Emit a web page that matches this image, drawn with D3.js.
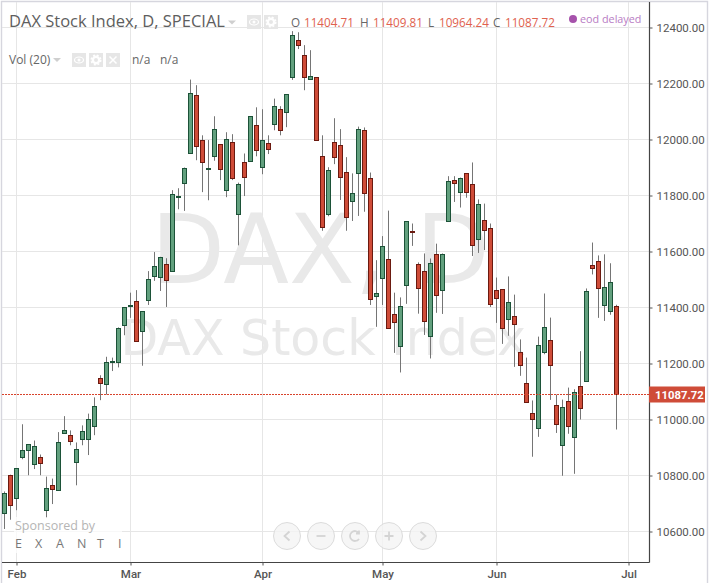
<!DOCTYPE html>
<html><head><meta charset="utf-8">
<script src="https://cdnjs.cloudflare.com/ajax/libs/d3/7.8.5/d3.min.js"></script>
<style>html,body{margin:0;padding:0;background:#fff}svg{display:block}</style>
</head><body><div id="chart"></div>
<script>
const opens=[10663,10800,10717,10863,10889,10838,10864,10674,10764,10745,10949,10943,10845,10927,10927,10975,11146,11124,11205,11204,11334,11405,11420,11314,11425,11509,11506,11553,11528,11793,11842,11949,12157,11996,11893,11939,11982,11818,11989,11732,11918,11921,12050,11900,11986,12054,12107,12096,12220,12354,12300,12214,12221,11939,11732,11989,11979,11882,11779,11879,12032,11861,11438,11503,11571,11375,11261,11478,11672,11553,11528,11296,11589,11461,11707,11854,11811,11879,11839,11643,11711,11682,11461,11464,11357,11368,11239,11128,11021,10968,11239,11282,11050,10907,11064,10936,11118,11136,11550,11564,11407,11386,11404.71];
const highs=[10743,10803,10825,10983,10911,10925,10875,10796,10789,10955,11012,10961,10918,10979,11021,11079,11158,11224,11221,11329,11400,11453,11462,11384,11530,11598,11581,11576,11819,11826,11900,12214,12194,12015,11998,12083,11982,12026,12019,11846,11950,12083,12115,12108,12015,12146,12119,12161,12387,12383,12337,12319,12221,12015,11901,12076,12037,11937,11879,12046,12043,11882,11569,11655,11746,11453,11436,11707,11700,11561,11593,11575,11628,11593,11869,11869,11864,11879,11918,11786,11771,11700,11507,11464,11511,11446,11286,11221,11068,11296,11450,11364,11089,11071,11114,11108,11244,11468,11632,11586,11590,11558,11409.81];
const lows=[10609,10642,10676,10858,10801,10823,10801,10648,10698,10745,10949,10908,10765,10908,10873,10944,11069,11089,11173,11186,11301,11363,11278,11192,11409,11495,11459,11402,11528,11751,11745,11949,11926,11812,11783,11924,11855,11794,11855,11622,11798,11921,11940,11876,11948,12033,12015,12044,12213,12323,12176,12214,11996,11674,11726,11912,11784,11674,11709,11727,11742,11409,11331,11409,11325,11238,11168,11413,11620,11378,11302,11218,11381,11377,11707,11777,11757,11792,11584,11595,11605,11402,11345,11270,11299,11188,11156,11061,10867,10938,11233,11070,10952,10799,10949,10806,11000,11136,11518,11363,11352,11374,10964.24];
const closes=[10736,10692,10825,10889,10911,10903,10843,10754,10749,10918,10961,10920,10893,10957,11000,11046,11129,11204,11207,11325,11400,11407,11278,11384,11500,11546,11578,11496,11803,11796,11896,12164,11974,11918,11895,12036,11892,12000,11861,11839,11864,12083,11961,11996,11964,12118,12032,12161,12371,12336,12221,12225,11996,11686,11889,11936,11864,11721,11807,12036,11807,11428,11450,11618,11325,11346,11403,11707,11670,11468,11350,11557,11443,11589,11850,11843,11861,11811,11621,11768,11675,11409,11432,11325,11418,11339,11193,11061,11000,11264,11328,11193,10982,11043,10975,11096,11039,11457,11539,11468,11471,11489,11087.72];
const priceTicks=[12400,12200,12000,11800,11600,11400,11200,11000,10800,10600];
const monthLabels=["Feb","Mar","Apr","May","Jun","Jul"];
const monthIndex=[2,21,43,63,82,104];
const lastClose=11087.72;
const ohlcLegend=[["O","11404.71"],["H","11409.81"],["L","10964.24"],["C","11087.72"]];

const W=709,H=583;
const svg=d3.select("#chart").append("svg").attr("width",W).attr("height",H);
const x=d3.scaleLinear().domain([0,102]).range([4.5,616.5]);
const y=d3.scaleLinear().domain([10600,12400]).range([531.5,27.5]);
const axisX=649.5, axisY=562.5;
const snap=v=>Math.round(v-0.5)+0.5;
const ui='"Open Sans",sans-serif', ax='Roboto,Arial,sans-serif';

// frame (open at the bottom)
svg.append("path").attr("d",`M1.5,${H}V1.5H707.5V${H}`).attr("fill","none").attr("stroke","#d6d6de").attr("stroke-width",1.4);

// grid
svg.append("g").selectAll("line").data(priceTicks).join("line")
 .attr("x1",2).attr("x2",axisX).attr("y1",d=>y(d)).attr("y2",d=>y(d)).attr("stroke","#e6e6e6");
svg.append("g").selectAll("line").data(monthIndex).join("line")
 .attr("x1",d=>snap(x(d))).attr("x2",d=>snap(x(d))).attr("y1",2).attr("y2",axisY).attr("stroke","#e6e6e6");

// watermark
const wm=svg.append("g").attr("font-family",'"DejaVu Sans",Verdana,sans-serif').attr("fill","#e9e9e9");
wm.append("text").attr("x",151).attr("y",283).attr("font-size",96).text("DAX, D");
wm.append("text").attr("x",120.5).attr("y",355).attr("font-size",49).text("DAX Stock Index");

// candles
const idx=d3.range(opens.length);
const up=i=>closes[i]>=opens[i];
svg.append("g").selectAll("line").data(idx).join("line")
 .attr("x1",i=>x(i)).attr("x2",i=>x(i)).attr("y1",i=>y(highs[i])).attr("y2",i=>y(lows[i]))
 .attr("stroke","#757575").attr("stroke-width",1);
svg.append("g").selectAll("rect").data(idx).join("rect")
 .attr("x",i=>x(i)-2)
 .attr("y",i=>snap(y(Math.max(opens[i],closes[i]))))
 .attr("width",4)
 .attr("height",i=>Math.max(1,snap(y(Math.min(opens[i],closes[i])))-snap(y(Math.max(opens[i],closes[i])))))
 .attr("fill",i=>up(i)?"#62a07e":"#cf4c38")
 .attr("stroke",i=>up(i)?"#1c5238":"#6b1a10").attr("stroke-width",1);

// last price line
svg.append("line").attr("x1",2).attr("x2",axisX).attr("y1",snap(y(lastClose))).attr("y2",snap(y(lastClose)))
 .attr("stroke","#d8432c").attr("stroke-dasharray","2,1");

// axes
const gy=svg.append("g").attr("transform",`translate(${axisX},0)`)
 .call(d3.axisRight(y).tickValues(priceTicks).tickFormat(d3.format(".2f")).tickSize(3).tickSizeOuter(0));
gy.select(".domain").attr("d",`M0,2V${axisY}`).attr("stroke","#444").attr("stroke-width",1.2);
gy.selectAll(".tick line").attr("stroke","#555");
gy.selectAll("text").attr("x",7).attr("font-family",ax).attr("font-size",11.5).attr("fill","#555");
const gx=svg.append("g").attr("transform",`translate(0,${axisY})`)
 .call(d3.axisBottom(x).tickValues(monthIndex).tickFormat((d,i)=>monthLabels[i]).tickSize(3).tickSizeOuter(0));
gx.select(".domain").attr("d",`M2,0H${axisX}`).attr("stroke","#444").attr("stroke-width",1.2);
gx.selectAll(".tick line").attr("stroke","#555");
gx.selectAll("text").attr("y",7).attr("font-family",ax).attr("font-weight",500).attr("font-size",11.5).attr("fill","#555");

// last price tag
const tagY=snap(y(lastClose));
svg.append("rect").attr("x",649).attr("y",tagY-8).attr("width",56).attr("height",16).attr("fill","#cf4c38");
svg.append("text").attr("x",655).attr("y",tagY+4).attr("font-family",ax).attr("font-weight",700).attr("font-size",11.3).attr("fill","#fff").text(d3.format(".2f")(lastClose));

// header
svg.append("text").attr("x",9).attr("y",27).attr("font-family",ui).attr("font-size",16.5).attr("fill","#5e5e5e").text("DAX Stock Index, D, SPECIAL");
const tri=(cx,cy)=>svg.append("path").attr("d",`M${cx-4},${cy-2}h8l-4,4z`).attr("fill","#cfcfcf");
tri(232,22.5);
const iconBox=(bx,by,s,kind)=>{
 const g=svg.append("g").attr("transform",`translate(${bx+s/2},${by+s/2})`);
 g.append("rect").attr("x",-s/2).attr("y",-s/2).attr("width",s).attr("height",s).attr("fill","#e6e6e6");
 if(kind==="eye"){
  g.append("ellipse").attr("rx",4.5).attr("ry",3).attr("fill","none").attr("stroke","#fff").attr("stroke-width",1.2);
  g.append("circle").attr("r",1.5).attr("fill","#fff");
 } else if(kind==="gear"){
  g.append("circle").attr("r",3.2).attr("fill","none").attr("stroke","#fff").attr("stroke-width",2.4);
  g.append("circle").attr("r",4.8).attr("fill","none").attr("stroke","#fff").attr("stroke-width",1.4).attr("stroke-dasharray","2,1.8");
 } else {
  g.append("path").attr("d","M-3.5,-3.5L3.5,3.5M3.5,-3.5L-3.5,3.5").attr("stroke","#fff").attr("stroke-width",1.5);
 }
};
iconBox(247,15,14,"eye"); iconBox(264,15,14,"gear");
const legend=svg.append("g").attr("font-family",ui).attr("font-size",11.7);
[[291,304],[360,373],[428,439],[493,505]].forEach((r,i)=>{
 legend.append("text").attr("x",r[0]).attr("y",27).attr("fill","#666").text(ohlcLegend[i][0]);
 legend.append("text").attr("x",r[1]).attr("y",27).attr("fill","#e0614e").text(ohlcLegend[i][1]);
});
svg.append("circle").attr("cx",573).attr("cy",19).attr("r",4).attr("fill","#a652ab");
svg.append("text").attr("x",580).attr("y",23).attr("font-family",ui).attr("font-size",10.8).attr("fill","#b87cc4").text("eod delayed");

// indicator row
svg.append("text").attr("x",9).attr("y",64).attr("font-family",ui).attr("font-size",12).attr("fill","#666").text("Vol (20)");
tri(57,60);
iconBox(72,53,14,"eye"); iconBox(89,53,14,"gear"); iconBox(106,53,14,"x");
svg.append("text").attr("x",132).attr("y",64).attr("font-family",ui).attr("font-size",12).attr("fill","#666").text("n/a");
svg.append("text").attr("x",160).attr("y",64).attr("font-family",ui).attr("font-size",12).attr("fill","#666").text("n/a");

// sponsor
svg.append("rect").attr("x",14).attr("y",517).attr("width",108).attr("height",36).attr("fill","#fff").attr("opacity",0.7);
svg.append("text").attr("x",15).attr("y",530).attr("font-family",ui).attr("font-size",12.5).attr("fill","#b5b5b5").text("Sponsored by");
svg.append("text").attr("x","15 35 56 77 97 118").attr("y",548).attr("font-family",ui).attr("font-size",12.5).attr("fill","#777").text("EXANTI");

// nav buttons
const navX=[287,321,355,389,423];
const navIcons=["M2.5,-4.5L-2.5,0L2.5,4.5","M-4.5,0H4.5","M4,-3A5,5 0 1 0 4,3M4,-5.5V-2.5H1","M-4.5,0H4.5M0,-4.5V4.5","M-2.5,-4.5L2.5,0L-2.5,4.5"];
const nav=svg.append("g");
nav.selectAll("circle").data(navX).join("circle").attr("cx",d=>d).attr("cy",536).attr("r",13.5).attr("fill","#f4f4f4").attr("fill-opacity",0.8).attr("stroke","#dcdcdc");
nav.selectAll("path").data(navIcons).join("path").attr("transform",(d,i)=>`translate(${navX[i]},536)`).attr("d",d=>d)
 .attr("fill","none").attr("stroke","#d4d4d4").attr("stroke-width",1.8);
</script></body></html>
